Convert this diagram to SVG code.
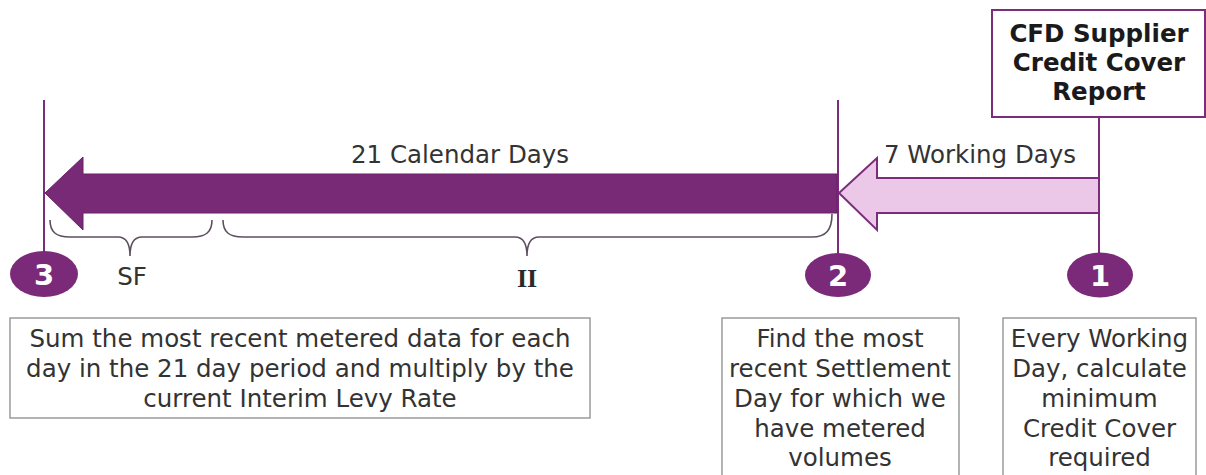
<svg xmlns="http://www.w3.org/2000/svg" width="1206" height="475" viewBox="0 0 1206 475">
  <style>
    .t { font-family: "DejaVu Sans", Verdana, sans-serif; font-size: 24.5px; fill: #333333; text-anchor: middle; }
    .b { font-family: "DejaVu Sans", Verdana, sans-serif; font-size: 24.5px; font-weight: bold; fill: #1a1a1a; text-anchor: middle; }
    .num { font-family: "DejaVu Sans", Verdana, sans-serif; font-size: 29px; font-weight: bold; fill: #ffffff; text-anchor: middle; }
    .box { fill: #ffffff; stroke: #9a9a9a; stroke-width: 1.5; }
    .vline { stroke: #7b2c7b; stroke-width: 2; fill: none; }
    .circ { fill: #7a2a78; }
    .brace { fill: none; stroke: #5e4f5e; stroke-width: 1.6; }
  </style>
  <rect width="1206" height="475" fill="#ffffff"/>

  <g id="connectors">
    <line class="vline" x1="44" y1="100" x2="44" y2="254"/>
    <line class="vline" x1="838" y1="100" x2="838" y2="254"/>
    <line class="vline" x1="1099" y1="117" x2="1099" y2="254"/>
    <g id="arrow-21-days">
      <polygon points="837,174 83,174 83,157 45,193 83,230 83,213 837,213" fill="#782a76" stroke="#6a2068" stroke-width="1"/>
      <text class="t" x="460" y="163">21 Calendar Days</text>
    </g>
    <g id="arrow-7-days">
      <polygon points="1099,178 877,178 877,158 839,193 877,230 877,213 1099,213" fill="#ebc8e8" stroke="#7b2c7b" stroke-width="2"/>
      <text class="t" x="980" y="163">7 Working Days</text>
    </g>
    <g id="brace-sf">
      <path class="brace" d="M50,220 C50,232 56,237 70,237 L118,237 C126,237 130,244 130,256 C130,244 134,237 142,237 L192,237 C206,237 212,232 212,220"/>
      <text class="t" x="132" y="285">SF</text>
    </g>
    <g id="brace-ii">
      <path class="brace" d="M223,220 C223,232 229,237 243,237 L515,237 C523,237 527,244 527,256 C527,244 531,237 539,237 L812,237 C826,237 832,230 832,214"/>
      <text x="527" y="287" font-family="'Liberation Serif', 'Times New Roman', serif" font-size="26" font-weight="bold" fill="#2a2a2a" text-anchor="middle">II</text>
    </g>
  </g>

  <g id="report">
    <rect x="992" y="10" width="213" height="107" fill="#ffffff" stroke="#7b2c7b" stroke-width="2"/>
    <text class="b" x="1099" y="42">CFD Supplier</text>
    <text class="b" x="1099" y="71">Credit Cover</text>
    <text class="b" x="1099" y="100">Report</text>
  </g>

  <g id="marker-3">
    <ellipse class="circ" cx="44" cy="274" rx="34" ry="23"/>
    <text class="num" x="44" y="285">3</text>
  </g>
  <g id="marker-2">
    <ellipse class="circ" cx="838" cy="275" rx="33" ry="22"/>
    <text class="num" x="838" y="286">2</text>
  </g>
  <g id="marker-1">
    <ellipse class="circ" cx="1100" cy="275" rx="33" ry="22.5"/>
    <text class="num" x="1100" y="286">1</text>
  </g>

  <g id="box-3">
    <rect class="box" x="10" y="318" width="580" height="100"/>
    <text class="t" x="300" y="347">Sum the most recent metered data for each</text>
    <text class="t" x="300" y="377">day in the 21 day period and multiply by the</text>
    <text class="t" x="300" y="407">current Interim Levy Rate</text>
  </g>

  <g id="box-2">
    <rect class="box" x="722" y="318" width="237" height="170"/>
    <text class="t" x="840" y="347">Find the most</text>
    <text class="t" x="840" y="377">recent Settlement</text>
    <text class="t" x="840" y="407">Day for which we</text>
    <text class="t" x="840" y="437">have metered</text>
    <text class="t" x="840" y="466">volumes</text>
  </g>

  <g id="box-1">
    <rect class="box" x="1003" y="318" width="193" height="170"/>
    <text class="t" x="1099.5" y="347">Every Working</text>
    <text class="t" x="1099.5" y="377">Day, calculate</text>
    <text class="t" x="1099.5" y="407">minimum</text>
    <text class="t" x="1099.5" y="437">Credit Cover</text>
    <text class="t" x="1099.5" y="466">required</text>
  </g>
</svg>
